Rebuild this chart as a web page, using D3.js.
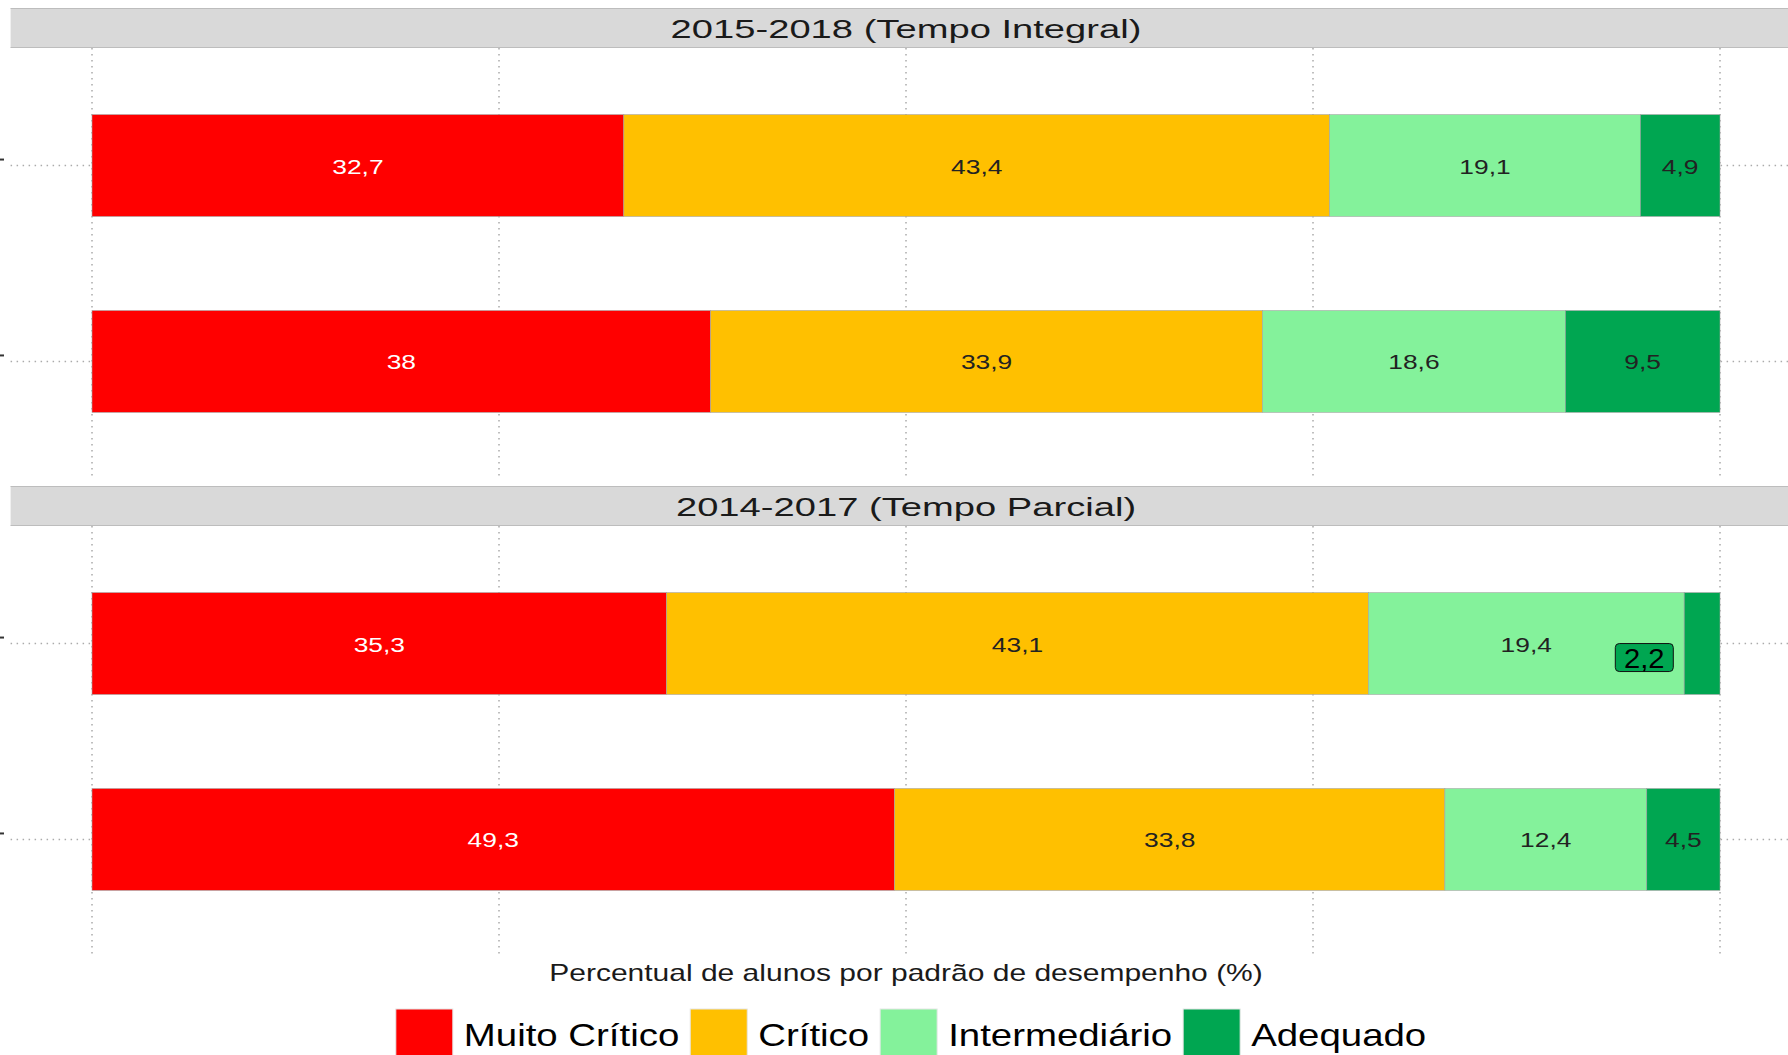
<!DOCTYPE html>
<html>
<head>
<meta charset="utf-8">
<script src="https://cdn.jsdelivr.net/npm/d3@7"></script>
<style>
  body { margin: 0; background: #fff; }
  svg { display: block; font-family: "Liberation Sans", Arial, sans-serif; }
</style>
</head>
<body>
<div id="chart"></div>
<script>
// facets and rows (the row labels are cut off on the left in the original)
const facets = ["2015-2018 (Tempo Integral)", "2014-2017 (Tempo Parcial)"];
const rows = ["linha 1", "linha 2"];
const levels = ["Muito Crítico", "Crítico", "Intermediário", "Adequado"];
const colors = ["#FF0000", "#FFC000", "#84F29B", "#00A651"];
const xTicks = [0, 25, 50, 75, 100];

// one value per bar, order: facet 1 row 1, facet 1 row 2, facet 2 row 1, facet 2 row 2
const muitoCritico = [32.7, 38, 35.3, 49.3];
const critico = [43.4, 33.9, 43.1, 33.8];
const intermediario = [19.1, 18.6, 19.4, 12.4];
const adequado = [4.9, 9.5, 2.2, 4.5];

const W = 1788, H = 1055;
const stripH = 40, panelH = 431, gap = 7, top0 = 8;
const fmt = v => String(v).replace(".", ",");

const svg = d3.select("#chart").append("svg")
    .attr("width", W)
    .attr("height", H);

const x = d3.scaleLinear().domain([0, 100]).range([92, 1720]);
const panelL = x(-5), panelR = x(105);

// helper: text stretched horizontally like in the picture
function stretched(g, txt, px, py, size, sx, fill, anchor) {
    return g.append("text")
        .attr("transform", `translate(${px},${py}) scale(${sx},1)`)
        .attr("text-anchor", anchor || "middle")
        .attr("font-size", size)
        .attr("fill", fill)
        .text(txt);
}

const series = [muitoCritico, critico, intermediario, adequado];

facets.forEach((facet, fi) => {
    const sTop = top0 + fi * (stripH + panelH + gap);
    const pTop = sTop + stripH;
    const g = svg.append("g");

    // strip
    g.append("rect")
        .attr("x", panelL).attr("y", sTop)
        .attr("width", panelR - panelL).attr("height", stripH)
        .attr("fill", "#D9D9D9");
    g.append("line").attr("x1", panelL).attr("x2", panelR).attr("y1", sTop + 0.5).attr("y2", sTop + 0.5)
        .attr("stroke", "#BDBDBD");
    g.append("line").attr("x1", panelL).attr("x2", panelR).attr("y1", pTop - 0.5).attr("y2", pTop - 0.5)
        .attr("stroke", "#BDBDBD");
    stretched(g, facet, (panelL + panelR) / 2, sTop + 30, 26.5, 1.44, "#1a1a1a");

    const y = d3.scalePoint().domain(rows).range([pTop, pTop + panelH]).padding(0.6);
    const bh = y.step() * 0.52;

    // grid
    g.selectAll(".vgrid").data(xTicks).enter().append("line")
        .attr("x1", d => x(d)).attr("x2", d => x(d))
        .attr("y1", pTop).attr("y2", pTop + panelH)
        .attr("stroke", "#ABABAB").attr("stroke-width", 1.5)
        .attr("stroke-dasharray", "1.5,4.5");
    g.selectAll(".hgrid").data(rows).enter().append("line")
        .attr("x1", panelL).attr("x2", panelR)
        .attr("y1", d => y(d)).attr("y2", d => y(d))
        .attr("stroke", "#ABABAB").attr("stroke-width", 1.5)
        .attr("stroke-dasharray", "1.5,4.5");
    // axis ticks (labels are outside the picture)
    g.selectAll(".tick").data(rows).enter().append("line")
        .attr("x1", 0).attr("x2", 4)
        .attr("y1", d => y(d) - 6).attr("y2", d => y(d) - 6)
        .attr("stroke", "#333").attr("stroke-width", 2);

    rows.forEach((row, ri) => {
        const bi = fi * 2 + ri;
        const vals = series.map(s => s[bi]);
        const total = d3.sum(vals);
        let cum = 0;
        const segs = vals.map((v, k) => {
            const s = { v: v, k: k, x0: cum / total * 100, x1: (cum + v) / total * 100 };
            cum += v;
            return s;
        });
        const cy = y(row);

        g.selectAll(null).data(segs).enter().append("rect")
            .attr("x", d => x(d.x0))
            .attr("y", cy - bh / 2)
            .attr("width", d => x(d.x1) - x(d.x0))
            .attr("height", bh)
            .attr("fill", d => colors[d.k])
            .attr("stroke", "#A6A6A6")
            .attr("stroke-width", 0.6);

        segs.forEach(d => {
            if (d.v >= 3) {
                stretched(g, fmt(d.v), x((d.x0 + d.x1) / 2), cy + 8, 20, 1.32,
                    d.k === 0 ? "#fff" : "#222");
            } else {
                // small value: boxed label pushed left of the bar end
                const lx = x(d.x0 - 2.45), ly = cy + 14;
                g.append("rect")
                    .attr("x", lx - 29).attr("y", ly - 14)
                    .attr("width", 58).attr("height", 28)
                    .attr("rx", 4)
                    .attr("fill", colors[d.k])
                    .attr("stroke", "#111").attr("stroke-width", 1);
                stretched(g, fmt(d.v), lx, ly + 10, 27, 1.08, "#000");
            }
        });
    });
});

// x axis title
stretched(svg, "Percentual de alunos por padrão de desempenho (%)", (panelL + panelR) / 2, 981, 24, 1.25, "#1a1a1a");

// legend
const legend = svg.append("g");
const keyW = 57, keyGap = 11, itemGap = 11, legSx = 1.2;
let lx = 0;
const items = levels.map((lv, i) => {
    const it = legend.append("g");
    it.append("rect")
        .attr("x", 0).attr("y", 1009)
        .attr("width", keyW).attr("height", keyW)
        .attr("fill", colors[i])
        .attr("stroke", "#E6E6E6").attr("stroke-width", 1);
    const t = stretched(it, lv, keyW + keyGap, 1046, 32, legSx, "#000", "start");
    const w = t.node().getComputedTextLength() * legSx;
    it.attr("transform", `translate(${lx},0)`);
    lx += keyW + keyGap + w + itemGap;
    return it;
});
const legW = lx - itemGap;
legend.attr("transform", `translate(${(panelL + panelR) / 2 - legW / 2 + 5},0)`);
</script>
</body>
</html>
